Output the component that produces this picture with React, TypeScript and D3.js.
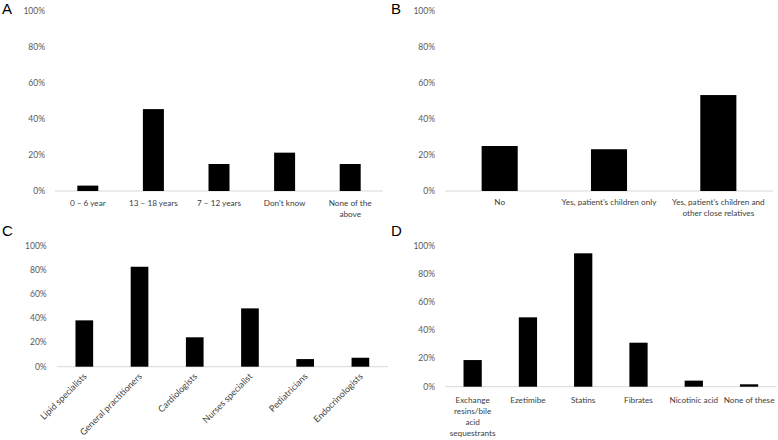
import React from "react";
import * as d3 from "d3";

const catsA = ["0 – 6 year", "13 – 18 years", "7 – 12 years", "Don't know", "None of the\nabove"];
const valsA = [3, 45.5, 15, 21.3, 15];

const catsB = ["No", "Yes, patient’s children only", "Yes, patient’s children and\nother close relatives"];
const valsB = [25, 23.2, 53.3];

const catsC = ["Lipid specialists", "General practitioners", "Cardiologists", "Nurses specialist", "Pediatricians", "Endocrinologists"];
const valsC = [38.3, 82.6, 24.3, 48.2, 6.3, 7.4];

const catsD = ["Exchange\nresins/bile\nacid\nsequestrants", "Ezetimibe", "Statins", "Fibrates", "Nicotinic acid", "None of these"];
const valsD = [18.9, 49.2, 94.6, 31.2, 4.3, 1.7];

const tickVals = [0, 20, 40, 60, 80, 100];

const FONT = "Lato, 'Open Sans', sans-serif";

type PanelProps = {
  letter: string;
  letterX: number;
  letterY: number;
  cats: string[];
  vals: number[];
  x0: number;
  x1: number;
  yTop: number;
  yBot: number;
  barFrac: number;
  rotate?: boolean;
  labelY: number;
};

function Panel(p: PanelProps) {
  const x = d3
    .scaleBand<string>()
    .domain(p.cats)
    .range([p.x0, p.x1])
    .paddingInner(1 - p.barFrac)
    .paddingOuter((1 - p.barFrac) / 2);
  const y = d3.scaleLinear().domain([0, 100]).range([p.yBot, p.yTop]);
  return (
    <g>
      <text x={p.letterX} y={p.letterY} fontFamily="'Liberation Sans', Arial, sans-serif" fontSize={15} fill="#000">
        {p.letter}
      </text>
      {tickVals.map((t) => (
        <text
          key={t}
          x={p.x0 - 10}
          y={y(t)}
          dy="0.35em"
          textAnchor="end"
          fontFamily={FONT}
          fontSize={8.5}
          fill="#595959"
        >
          {t + "%"}
        </text>
      ))}
      <line x1={p.x0} x2={p.x1} y1={p.yBot} y2={p.yBot} stroke="#d9d9d9" strokeWidth={1} />
      {p.cats.map((c, i) => (
        <rect
          key={c}
          x={x(c)!}
          y={y(p.vals[i])}
          width={x.bandwidth()}
          height={p.yBot - y(p.vals[i])}
          fill="#000"
        />
      ))}
      {p.cats.map((c) => {
        const cx = x(c)! + x.bandwidth() / 2;
        if (p.rotate) {
          return (
            <text
              key={"l" + c}
              transform={`translate(${cx + 3},${p.labelY}) rotate(-45)`}
              textAnchor="end"
              fontFamily={FONT}
              fontSize={9}
              fill="#404040"
            >
              {c}
            </text>
          );
        }
        const lines = c.split("\n");
        return (
          <text key={"l" + c} textAnchor="middle" fontFamily={FONT} fontSize={8.2} fill="#404040">
            {lines.map((ln, j) => (
              <tspan key={j} x={cx} y={p.labelY + j * 11}>
                {ln}
              </tspan>
            ))}
          </text>
        );
      })}
    </g>
  );
}

export default function App() {
  return (
    <svg
      width={778}
      height={440}
      style={{ position: "absolute", left: 0, top: 0, background: "#fff" }}
    >
      <rect width={778} height={440} fill="#fff" />
      <Panel letter="A" letterX={2} letterY={14} cats={catsA} vals={valsA} x0={55} x1={383} yTop={11} yBot={191} barFrac={0.32} labelY={206} />
      <Panel letter="B" letterX={391} letterY={14} cats={catsB} vals={valsB} x0={445} x1={773} yTop={11} yBot={191} barFrac={0.33} labelY={205} />
      <Panel letter="C" letterX={2} letterY={236} cats={catsC} vals={valsC} x0={56.7} x1={388} yTop={245.7} yBot={366.7} barFrac={0.32} rotate labelY={377} />
      <Panel letter="D" letterX={391} letterY={236} cats={catsD} vals={valsD} x0={445} x1={776.7} yTop={245.7} yBot={386.7} barFrac={0.33} labelY={402.5} />
    </svg>
  );
}
